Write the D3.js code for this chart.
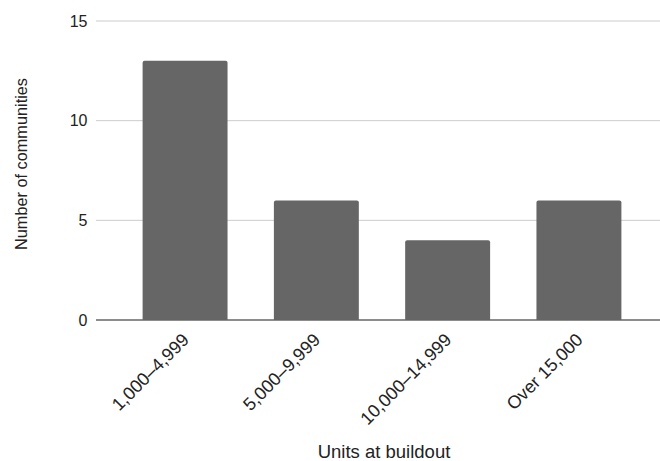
<!DOCTYPE html>
<html><head><meta charset="utf-8">
<script src="https://cdn.jsdelivr.net/npm/d3@7"></script>
<style>body{margin:0;background:#fff;} svg{display:block;font-family:"Liberation Sans",Arial,sans-serif;}</style>
</head><body>
<svg id="c" width="660" height="461"></svg>
<script>
const categories = ["1,000–4,999", "5,000–9,999", "10,000–14,999", "Over 15,000"];
const values = [13, 6, 4, 6];
const yTicks = [0, 5, 10, 15];
const xTitle = "Units at buildout";
const yTitle = "Number of communities";

const svg = d3.select("#c");
const x = d3.scaleBand().domain(categories).range([96, 668]).paddingInner(0.353).paddingOuter(0.355);
const y = d3.scaleLinear().domain([0, 15]).range([320, 21]);

svg.append("g").selectAll("line").data(yTicks.filter(d => d > 0)).join("line")
  .attr("x1", 96).attr("x2", 660).attr("y1", d => y(d)).attr("y2", d => y(d))
  .attr("stroke", "#cccccc").attr("stroke-width", 1);

svg.append("g").selectAll("text").data(yTicks).join("text")
  .attr("x", 87.5).attr("y", d => y(d)).attr("dy", "0.35em").attr("text-anchor", "end")
  .attr("font-size", 16).attr("fill", "#222").text(d => d);

svg.append("g").selectAll("path").data(values).join("path")
  .attr("fill", "#666666")
  .attr("d", (d, i) => {
    const x0 = x(categories[i]), w = x.bandwidth(), y0 = y(d), y1 = y(0), r = 2;
    return `M${x0},${y1}V${y0 + r}Q${x0},${y0} ${x0 + r},${y0}H${x0 + w - r}Q${x0 + w},${y0} ${x0 + w},${y0 + r}V${y1}Z`;
  });

svg.append("line").attr("x1", 96).attr("x2", 660).attr("y1", y(0)).attr("y2", y(0))
  .attr("stroke", "#666").attr("stroke-width", 1.5);

svg.append("g").selectAll("text").data(categories).join("text")
  .attr("transform", d => `translate(${x(d) + x.bandwidth() / 2 + 5},${341}) rotate(-45)`)
  .attr("text-anchor", "end").attr("font-size", 18).attr("fill", "#222").text(d => d);

svg.append("text").attr("x", 384).attr("y", 458).attr("text-anchor", "middle")
  .attr("font-size", 18.5).attr("fill", "#222").text(xTitle);

svg.append("text").attr("transform", "translate(26.5,164) rotate(-90)").attr("text-anchor", "middle")
  .attr("font-size", 16.3).attr("fill", "#222").text(yTitle);
</script>
</body></html>
